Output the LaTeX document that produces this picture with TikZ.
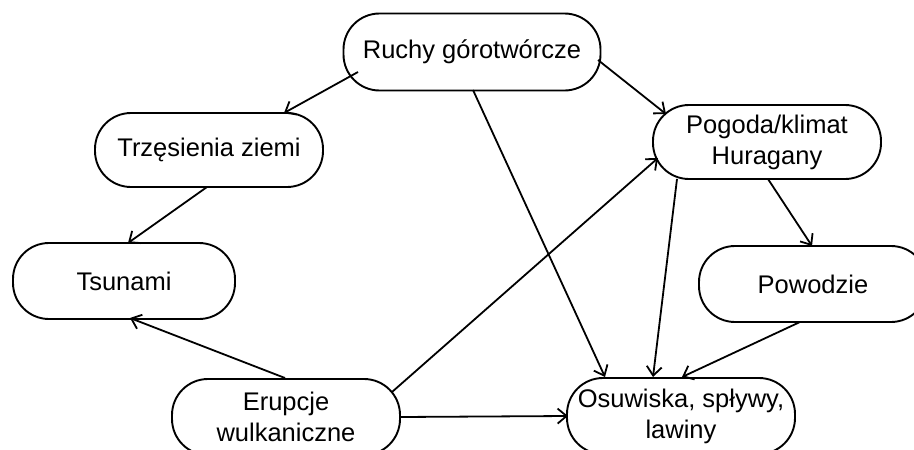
\documentclass[tikz,border=0pt]{standalone}
\usepackage{fontspec}
\setmainfont{Liberation Sans}
\usetikzlibrary{arrows.meta,calc}
\begin{document}
\begin{tikzpicture}[x=1pt,y=-1pt,
  box/.style={draw,line width=1.9pt,rounded corners=36pt,minimum width=228pt,minimum height=75pt,inner sep=0pt,align=center,font=\fontsize{25.5}{31}\selectfont},
  arr/.style={line width=1.8pt,-{Straight Barb[length=9pt,width=15pt,line width=1.8pt]}}]
\useasboundingbox (0,0) rectangle (914,450);
\clip (0,0) rectangle (914,450);
\node[box,minimum width=257pt,minimum height=77pt] (ruchy) at (472,52) {Ruchy górotwórcze};
\node[box,minimum height=74pt] (trz) at (209,150) {Trzęsienia ziemi};
\node[box,minimum width=222pt,minimum height=76pt] (tsu) at (124,281) {Tsunami};
\node[box,minimum height=76pt] (eru) at (286,417) {Erupcje\\wulkaniczne};
\node[box,minimum height=76pt] (osu) at (681,416) {Osuwiska, spływy,\\lawiny};
\node[box,minimum height=74pt] (pog) at (767,142) {Pogoda/klimat\\Huragany};
\node[box,minimum height=76pt] (pow) at (813,284) {Powodzie};
\draw[arr] ($(ruchy)+(-114,20)$) -- ($(trz)+(75,-37)$);
\draw[arr] ($(ruchy)+(126,8)$) -- ($(pog)+(-101,-28)$);
\draw[arr] ($(ruchy)+(1,38)$) -- ($(osu)+(-76,-39)$);
\draw[arr] ($(trz)+(-2,37)$) -- ($(tsu)+(4,-38)$);
\draw[arr] ($(eru)+(-1,-39)$) -- ($(tsu)+(6,37)$);
\draw[arr] ($(eru)+(106,-25)$) -- ($(pog)+(-109,16)$);
\draw[arr] ($(eru)+(114,0)$) -- ($(osu)+(-113,0)$);
\draw[arr] ($(pog)+(-90,37)$) -- ($(osu)+(-28,-39)$);
\draw[arr] ($(pog)+(1,37)$) -- ($(pow)+(-1,-38)$);
\draw[arr] ($(pow)+(-13,38)$) -- ($(osu)+(1,-39)$);
\end{tikzpicture}
\end{document}
